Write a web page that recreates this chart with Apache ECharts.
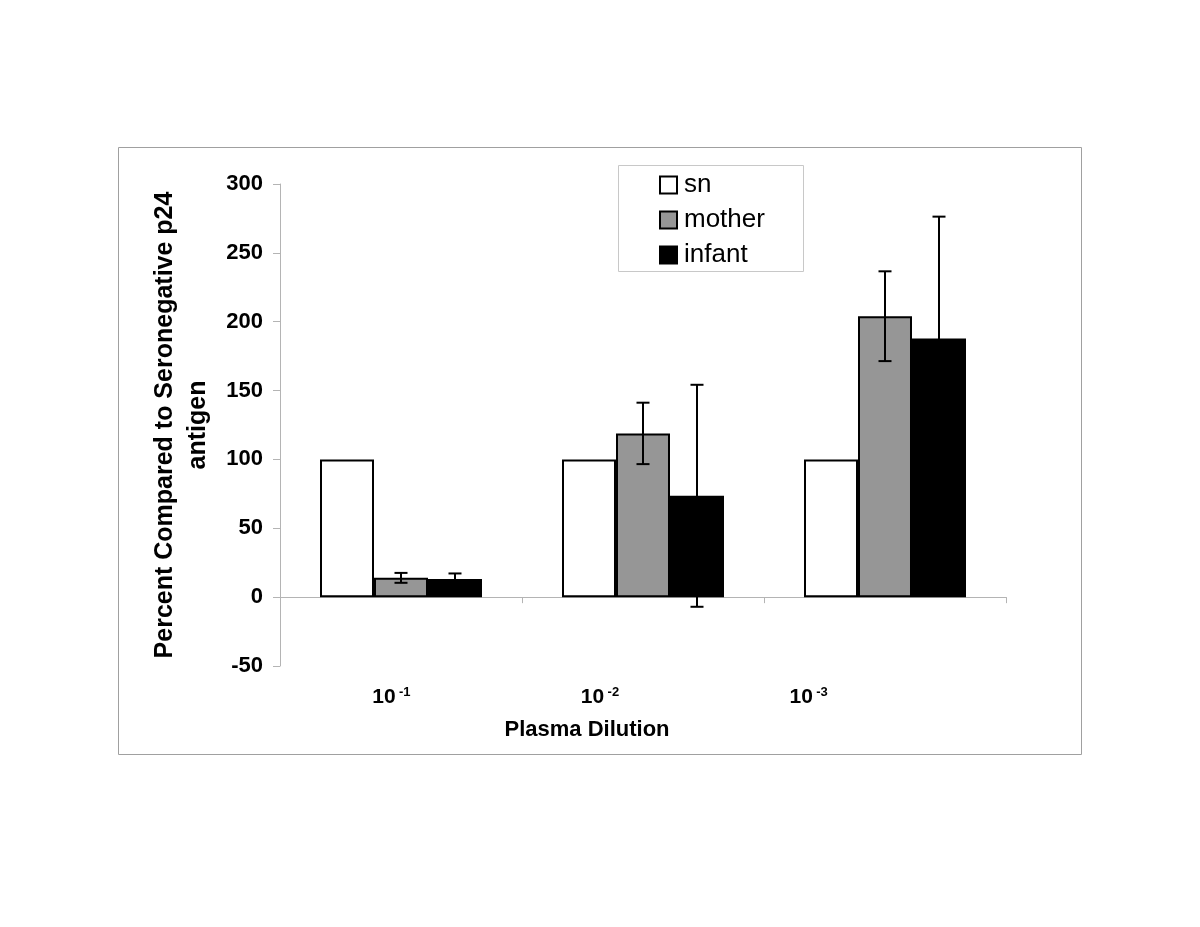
<!DOCTYPE html>
<html>
<head>
<meta charset="utf-8">
<script src="https://cdn.jsdelivr.net/npm/echarts@6/dist/echarts.min.js"></script>
<style>
html,body{margin:0;padding:0;background:#fff;}
#chart{width:1200px;height:927px;}
</style>
</head>
<body>
<div id="chart"></div>
<script>
// ---- data ----
const categories = ['10^-1', '10^-2', '10^-3'];
const exponents = ['-1', '-2', '-3'];
const snValues = [100, 100, 100];
const motherValues = [14.0, 118.9, 204.0];
const motherErrors = [3.6, 22.3, 32.6];
const infantValues = [13.1, 73.6, 187.9];
const infantErrors = [4.1, 80.6, 88.4];
const yTicks = { min: -50, max: 300, interval: 50 };

const FONT = '"Liberation Sans", Arial, sans-serif';
const GAP_RATIO = 0.3306;

function errRender(offsetIdx) {
  return function (params, api) {
    const xi = api.value(0), v = api.value(1), e = api.value(2);
    const c = api.coord([xi, v]);
    const band = api.size([1, 0])[0];
    const bw = band * (1 - GAP_RATIO) / 3;
    const x = c[0] + offsetIdx * bw;
    const yt = api.coord([xi, v + e])[1];
    const yb = api.coord([xi, v - e])[1];
    const cap = 6.5;
    const st = { stroke: '#000', lineWidth: 2 };
    return {
      type: 'group',
      children: [
        { type: 'line', shape: { x1: x, y1: yt, x2: x, y2: yb }, style: st },
        { type: 'line', shape: { x1: x - cap, y1: yt, x2: x + cap, y2: yt }, style: st },
        { type: 'line', shape: { x1: x - cap, y1: yb, x2: x + cap, y2: yb }, style: st }
      ]
    };
  };
}

const chart = echarts.init(document.getElementById('chart'));
const axisGray = '#b4b4b4';

chart.setOption({
  backgroundColor: '#fff',
  animation: false,
  textStyle: { fontFamily: FONT },
  graphic: [
    { type: 'rect', shape: { x: 118.5, y: 147.5, width: 963, height: 607 },
      style: { fill: 'none', stroke: '#a0a0a0', lineWidth: 1 }, z: -1 },
    { type: 'rect', shape: { x: 618.5, y: 165.5, width: 185, height: 106 },
      style: { fill: '#fff', stroke: '#c8c8c8', lineWidth: 1 }, z: 0 }
  ],
  legend: {
    data: ['sn', 'mother', 'infant'],
    orient: 'vertical',
    left: 659, top: 172,
    itemWidth: 17, itemHeight: 17, itemGap: 9,
    padding: 0,
    icon: 'rect',
    textStyle: { fontSize: 26, color: '#000', fontFamily: FONT, padding: [0, 0, 0, 2] },
    z: 5
  },
  grid: [
    { left: 280, right: 194, top: 184, bottom: 261 },
    { left: 287, width: 626, top: 184, bottom: 261 }
  ],
  xAxis: [
    {
      type: 'category', gridIndex: 0, data: categories,
      axisLine: { onZero: true, lineStyle: { color: axisGray, width: 1 } },
      axisTick: { show: true, length: 6, lineStyle: { color: axisGray } },
      axisLabel: { show: false }
    },
    {
      type: 'category', gridIndex: 1, data: exponents,
      position: 'bottom',
      axisLine: { show: false, onZero: false },
      axisTick: { show: false },
      axisLabel: {
        margin: 20,
        formatter: function (v) { return '{b|10} {s|' + v + '}'; },
        rich: {
          b: { fontSize: 21, fontWeight: 'bold', color: '#000', fontFamily: FONT },
          s: { fontSize: 13, fontWeight: 'bold', color: '#000', fontFamily: FONT, padding: [0, 0, 9, 0] }
        }
      },
      name: 'Plasma Dilution',
      nameLocation: 'middle',
      nameGap: 53,
      nameTextStyle: { fontSize: 22, fontWeight: 'bold', color: '#000', fontFamily: FONT, padding: [0, 26, 0, 0] }
    }
  ],
  yAxis: [
    {
      type: 'value', gridIndex: 0,
      min: yTicks.min, max: yTicks.max, interval: yTicks.interval,
      axisLine: { show: true, lineStyle: { color: axisGray, width: 1 } },
      axisTick: { show: true, length: 7, lineStyle: { color: axisGray } },
      splitLine: { show: false },
      axisLabel: { fontSize: 22, fontWeight: 'bold', color: '#000', margin: 17, fontFamily: FONT },
      name: 'Percent Compared to Seronegative p24\nantigen',
      nameLocation: 'middle',
      nameGap: 65,
      nameTextStyle: { fontSize: 25, fontWeight: 'bold', color: '#000', lineHeight: 33, fontFamily: FONT, align: 'center' }
    },
    { type: 'value', gridIndex: 1, show: false, min: yTicks.min, max: yTicks.max }
  ],
  series: [
    { name: 'sn', type: 'bar', data: snValues, barGap: '0%', barCategoryGap: (GAP_RATIO * 100) + '%',
      itemStyle: { color: '#ffffff', borderColor: '#000', borderWidth: 2 } },
    { name: 'mother', type: 'bar', data: motherValues, barGap: '0%', barCategoryGap: (GAP_RATIO * 100) + '%',
      itemStyle: { color: '#969696', borderColor: '#000', borderWidth: 2 } },
    { name: 'infant', type: 'bar', data: infantValues, barGap: '0%', barCategoryGap: (GAP_RATIO * 100) + '%',
      itemStyle: { color: '#000000', borderColor: '#000', borderWidth: 2 } },
    { name: 'mother err', type: 'custom', renderItem: errRender(0), z: 10,
      encode: { x: 0, y: 1 },
      data: motherValues.map((v, i) => [i, v, motherErrors[i]]) },
    { name: 'infant err', type: 'custom', renderItem: errRender(1), z: 10,
      encode: { x: 0, y: 1 },
      data: infantValues.map((v, i) => [i, v, infantErrors[i]]) }
  ]
});
</script>
</body>
</html>
